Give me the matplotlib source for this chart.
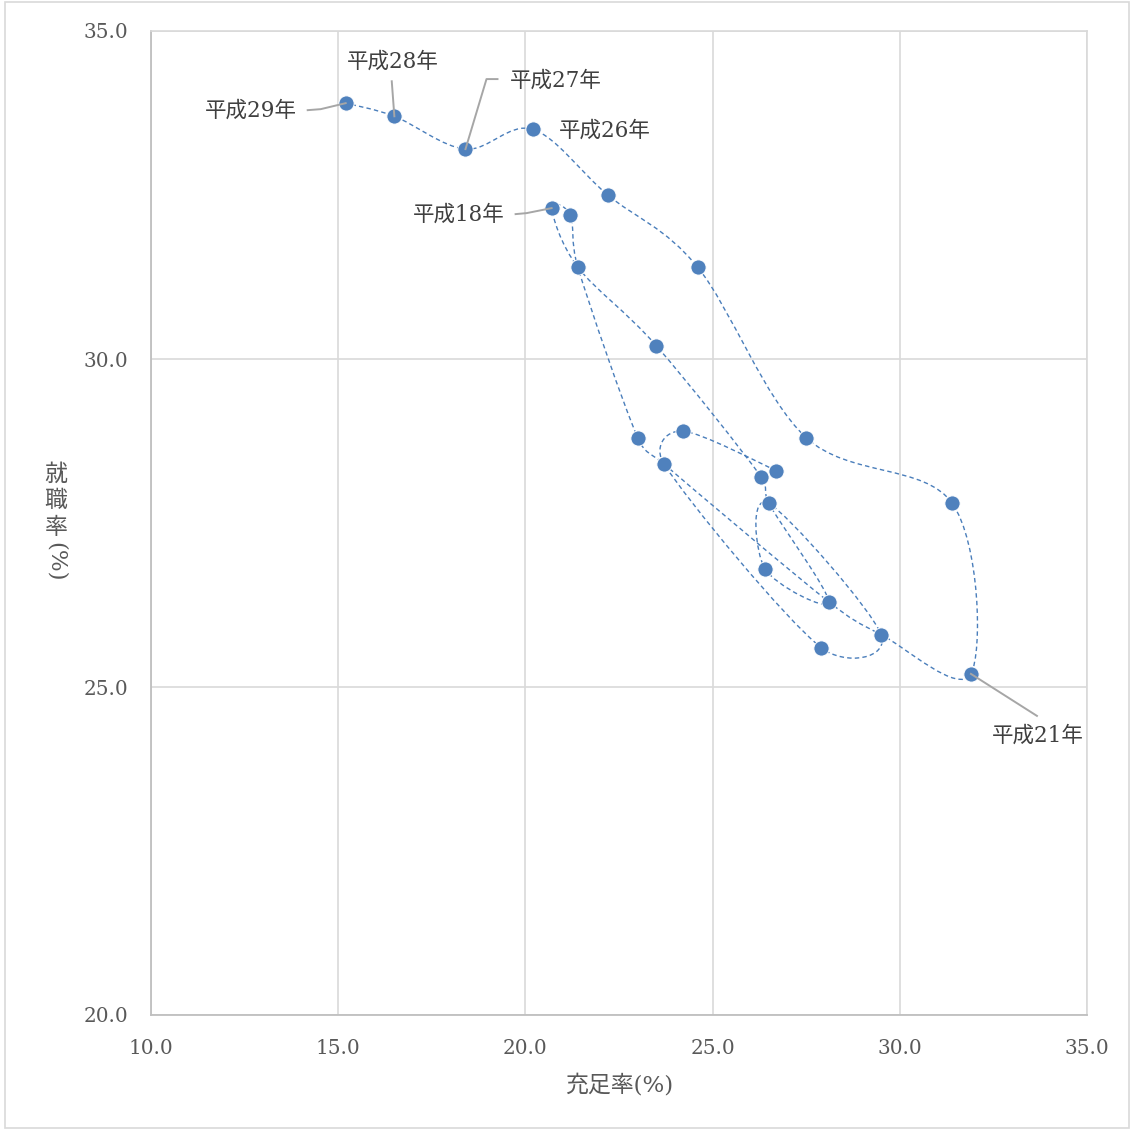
import matplotlib
matplotlib.use("Agg")
import matplotlib.pyplot as plt
import numpy as np
from matplotlib.path import Path
from matplotlib.patches import PathPatch, Rectangle
from matplotlib.lines import Line2D
from matplotlib.transforms import IdentityTransform

# ---------------- data ----------------
# 充足率 (x) and 就職率 (y) of each plotted point
fill_rate = [15.2, 16.5, 18.4, 20.2, 22.2, 24.6, 27.5, 31.4, 31.9, 29.5, 28.1, 26.4,
             26.5, 26.3, 26.7, 24.2, 23.0, 23.7, 27.9, 20.7, 21.2, 21.4, 23.5]
job_rate = [33.9, 33.7, 33.2, 33.5, 32.5, 31.4, 28.8, 27.8, 25.2, 25.8, 26.3, 26.8,
            27.8, 28.2, 28.3, 28.9, 28.8, 28.4, 25.6, 32.3, 32.2, 31.4, 30.2]
# order in which the dashed smooth line connects the points (0-based indices)
route = [14, 15, 17, 18, 9, 12, 11, 10, 12, 13, 22, 21, 19, 20, 21, 16, 17, 10, 9,
         8, 7, 6, 5, 4, 3, 2, 1, 0]
# labelled points
label_idx = [0, 1, 2, 3, 19, 8]
label_txt = ["平成29年", "平成28年", "平成27年", "平成26年", "平成18年", "平成21年"]

x_ticks = [10.0, 15.0, 20.0, 25.0, 30.0, 35.0]
y_ticks = [20.0, 25.0, 30.0, 35.0]

# ---------------- styling ----------------
W, H = 1132, 1131
FONT = ["DejaVu Serif", "Noto Sans CJK JP"]
plt.rcParams["font.family"] = FONT
BLUE = "#4a7ebb"

fig = plt.figure(figsize=(W / 100, H / 100), dpi=100)
fig.patch.set_facecolor("white")
fig.add_artist(Rectangle((5 / W, 3 / H), 1124 / W, 1126 / H, transform=fig.transFigure,
                         fill=False, edgecolor="#d9d9d9", linewidth=1.2))

L, R, T, B = 151, 1087, 31, 1015
ax = fig.add_axes([L / W, (H - B) / H, (R - L) / W, (B - T) / H])
ax.set_xlim(10, 35)
ax.set_ylim(20, 35)
ax.set_xticks(x_ticks)
ax.set_yticks(y_ticks)
ax.set_xticklabels([f"{v:.1f}" for v in x_ticks])
ax.set_yticklabels([f"{v:.1f}" for v in y_ticks])
ax.tick_params(length=0, labelsize=14.4, colors="#595959")
ax.tick_params(axis="y", pad=16.5)
ax.tick_params(axis="x", pad=17)
ax.grid(True, color="#d9d9d9", linewidth=1.2)
ax.set_axisbelow(True)
for s in ["top", "right"]:
    ax.spines[s].set_color("#d9d9d9")
    ax.spines[s].set_linewidth(1.2)
for s in ["left", "bottom"]:
    ax.spines[s].set_color("#bfbfbf")
    ax.spines[s].set_linewidth(1.3)

fig.canvas.draw()

# smooth dashed connecting line (Excel-like Bezier smoothing, computed in pixel space)
rx = np.array([fill_rate[i] for i in route])
ry = np.array([job_rate[i] for i in route])
P = ax.transData.transform(np.column_stack([rx, ry]))
n = len(P)
verts = [tuple(P[0])]
codes = [Path.MOVETO]
F = 1.0 / 6.0
for i in range(n - 1):
    p0 = P[i - 1] if i > 0 else P[0]
    p1, p2 = P[i], P[i + 1]
    p3 = P[i + 2] if i + 2 < n else P[n - 1]
    d12 = np.hypot(*(p2 - p1))
    t1 = (p2 - p0) * F
    t2 = (p3 - p1) * F
    l1, l2 = np.hypot(*t1), np.hypot(*t2)
    if l1 > d12 / 2:
        t1 = t1 * (d12 / 2) / l1
    if l2 > d12 / 2:
        t2 = t2 * (d12 / 2) / l2
    verts += [tuple(p1 + t1), tuple(p2 - t2), tuple(p2)]
    codes += [Path.CURVE4] * 3
data_verts = ax.transData.inverted().transform(np.array(verts))
ax.add_patch(PathPatch(Path(data_verts, codes), fill=False, edgecolor=BLUE, linewidth=1.0,
                       linestyle=(0, (3.2, 2.3)), zorder=3))

ax.plot(fill_rate, job_rate, linestyle="none", marker="o", markersize=11,
        markerfacecolor="#4f81bd", markeredgecolor="white", markeredgewidth=0.7, zorder=4)

# data labels: text offset and leader line waypoints in pixels (image coords, y down)
label_text_off = [(-95, 8), (-2, -55), (90, -68), (72, 1), (-93, 7), (67, 62)]
label_leader = [[(-38, 7), (-25, 6), (0, 0)],
                [(-2.6, -35), (0, 0)],
                [(32, -70), (21, -70), (0, 0)],
                [],
                [(-36, 6), (-25, 5), (0, 0)],
                [(0, 0), (66, 42)]]

for idx, txt, toff, lead in zip(label_idx, label_txt, label_text_off, label_leader):
    dx, dy = ax.transData.transform((fill_rate[idx], job_rate[idx]))
    fig.text((dx + toff[0]) / W, (dy - toff[1]) / H, txt, ha="center", va="center",
             fontsize=15.5, color="#404040", family=FONT)
    if lead:
        xs = [dx + o[0] for o in lead]
        ys = [dy - o[1] for o in lead]
        fig.add_artist(Line2D(xs, ys, transform=IdentityTransform(), color="#a6a6a6",
                              linewidth=1.4, zorder=3.5))

# axis titles
fig.text(619 / W, 1 - 1085 / H, "充足率(%)", ha="center", va="center", fontsize=16.5,
         color="#595959", family=FONT)
for ch, yy in zip(["就", "職", "率"], [475, 501, 528]):
    fig.text(56 / W, 1 - yy / H, ch, ha="center", va="center", fontsize=16.5,
             color="#595959", family=FONT)
fig.text(56 / W, 1 - 562 / H, "(%)", ha="center", va="center", fontsize=16.5,
         rotation=-90, color="#595959", family=FONT)

fig.savefig("out.png", dpi=100, facecolor="white")
